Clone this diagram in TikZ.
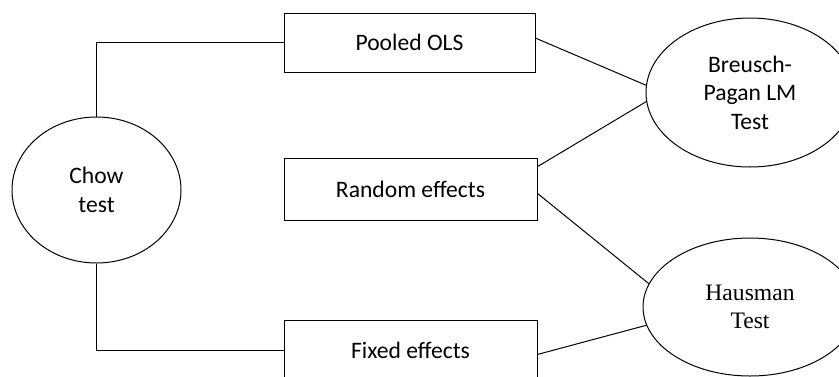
\documentclass[tikz,border=0pt]{standalone}
\usepackage{fontspec}
\setmainfont{Carlito}
\newfontfamily\timesfont{Liberation Serif}
\usetikzlibrary{shapes.geometric}

\begin{document}
\begin{tikzpicture}
        [%%%%%%%%%%%%%%%%%%%%%%%%%%%%%%
        x=0.5pt, y=-0.5pt,
        line width=0.5pt,
        every node/.style={font=\fontsize{11.8}{14.3}\selectfont, align=center, inner sep=0pt},
        testoval/.style={ellipse, draw=black},
        modelbox/.style={rectangle, draw=black, minimum width=126.5pt},
        ]%%%%%%%%%%%%%%%%%%%%%%%%%%%%%%
        \useasboundingbox (0,0) rectangle (839,376);

        % Tests
        \node[testoval, minimum width=84.5pt, minimum height=73pt] (chow) at (96.5,190) {Chow\\test};
        \node[testoval, minimum width=104pt, minimum height=74.5pt] (bp) at (750,92.5) {Breusch-\\Pagan LM\\Test};
        \node[testoval, minimum width=107pt, minimum height=69pt,
              font=\timesfont\fontsize{11.8}{14}\selectfont] (hausman) at (750,307) {Hausman\\Test};

        % Models
        \node[modelbox, minimum width=125.5pt, minimum height=29.5pt] (pooled) at (409.5,42.5) {Pooled OLS};
        \node[modelbox, minimum height=31pt] (random) at (410.5,189) {Random effects};
        \node[modelbox, minimum height=30pt] (fixed) at (410.5,350) {Fixed effects};

        % Links
        \draw (chow.north) |- (pooled.west);
        \draw (chow.south) |- (fixed.west);
        \draw (pooled.2.5) -- (bp.176);
        \draw (random.10) -- (bp.185);
        \draw (random.-2) -- (hausman.167);
        \draw (fixed.-2) -- (hausman.190.7);

      \end{tikzpicture}
\end{document}
